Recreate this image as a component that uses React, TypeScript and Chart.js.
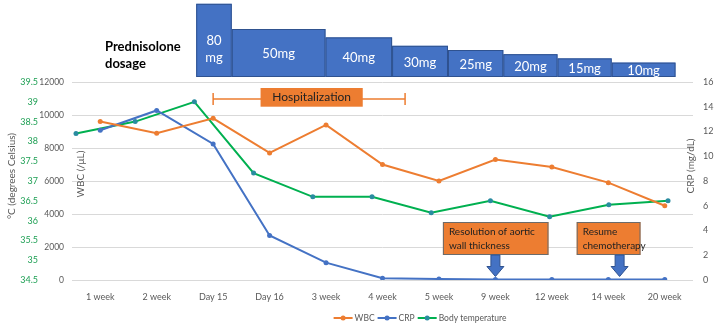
import React, { useEffect, useRef } from 'react';
import { Chart, registerables } from 'chart.js';

Chart.register(...registerables);

const categories = ['1 week', '2 week', 'Day 15', 'Day 16', '3 week', '4 week', '5 week', '9 week', '12 week', '14 week', '20 week'];
const wbcValues = [9600, 8900, 9800, 7700, 9400, 7000, 6000, 7300, 6850, 5900, 4500];
const crpValues = [12.1, 13.7, 11.0, 3.6, 1.4, 0.15, 0.08, 0.05, 0.05, 0.05, 0.05];
const temperatureValues = [38.2, 38.5, 39.0, 37.2, 36.6, 36.6, 36.2, 36.5, 36.1, 36.4, 36.5];

const doseLabels = ['80mg', '50mg', '40mg', '30mg', '25mg', '20mg', '15mg', '10mg'];
const doseAmounts = [80, 50, 40, 30, 25, 20, 15, 10];
// period boundaries, in category units
const doseBoundaries = [1.7, 2.33, 3.99, 5.17, 6.16, 7.14, 8.1, 9.06, 10.19];
const hospitalizationSpan = [2, 5.4];
const eventLabels = [['Resolution of aortic', 'wall thickness'], ['Resume', 'chemotherapy']];
const eventAt = [7, 9.2];
const eventBoxSpan = [[6.07, 7.94], [8.44, 9.57]];

const ORANGE = '#ED7D31';
const BLUE = '#4472C4';
const GREEN = '#00B050';
const GRAY = '#595959';
const FONT = "Lato, 'Noto Sans', sans-serif";

const overlay = {
  id: 'overlay',
  afterDraw(chart: any) {
    const ctx: CanvasRenderingContext2D = chart.ctx;
    const ca = chart.chartArea;
    const xs = chart.scales.x;
    const cw = (xs.right - xs.left) / categories.length;
    const px = (i: number) => xs.left + (i + 0.5) * cw;
    ctx.save();

    const vText = (t: string, x: number, y: number, size: number, color: string) => {
      ctx.save();
      ctx.translate(x, y);
      ctx.rotate(-Math.PI / 2);
      ctx.font = `${size}px ${FONT}`;
      ctx.fillStyle = color;
      ctx.textAlign = 'center';
      ctx.textBaseline = 'middle';
      ctx.fillText(t, 0, 0);
      ctx.restore();
    };
    vText('°C (degrees Celsius)', 12, 176, 10, GRAY);
    vText('WBC (/μL)', 81, 174, 10, GRAY);
    vText('CRP (mg/dL)', 691, 166, 10, GRAY);

    // Prednisolone title
    ctx.font = `bold 13px ${FONT}`;
    ctx.fillStyle = '#000';
    ctx.textAlign = 'left';
    ctx.textBaseline = 'middle';
    ctx.fillText('Prednisolone', 105, 47);
    ctx.fillText('dosage', 105, 64);

    // dosage blocks
    const base = ca.top - 5;
    doseAmounts.forEach((d, k) => {
      const x0 = px(doseBoundaries[k]);
      const x1 = px(doseBoundaries[k + 1]);
      const h = 6 + 0.84 * d;
      const top = base - h;
      ctx.fillStyle = BLUE;
      ctx.fillRect(x0, top, x1 - x0, h);
      ctx.strokeStyle = '#2F528F';
      ctx.lineWidth = 1;
      ctx.strokeRect(x0 + 0.5, top + 0.5, x1 - x0 - 1, h - 1);
      ctx.font = `13px ${FONT}`;
      ctx.fillStyle = '#fff';
      ctx.textAlign = 'center';
      ctx.textBaseline = 'middle';
      const cx = (x0 + x1) / 2;
      const cy = Math.max(top + h / 2, base - 28);
      const label = doseLabels[k];
      if (ctx.measureText(label).width > x1 - x0 - 6) {
        const m = label.match(/^(\d+)(.*)$/);
        ctx.fillText(m ? m[1] : label, cx, cy - 8.5);
        ctx.fillText(m ? m[2] : '', cx, cy + 8.5);
      } else {
        ctx.fillText(label, cx, cy + 1);
      }
    });

    // hospitalization bracket
    const hy = ca.top + 17;
    const hx0 = px(hospitalizationSpan[0]);
    const hx1 = px(hospitalizationSpan[1]);
    ctx.strokeStyle = ORANGE;
    ctx.lineWidth = 1.5;
    ctx.beginPath();
    ctx.moveTo(hx0, hy); ctx.lineTo(hx1, hy);
    ctx.moveTo(hx0, hy - 6); ctx.lineTo(hx0, hy + 6);
    ctx.moveTo(hx1, hy - 6); ctx.lineTo(hx1, hy + 6);
    ctx.stroke();
    const bx0 = px(2.84), bx1 = px(4.65);
    ctx.fillStyle = ORANGE;
    ctx.fillRect(bx0, ca.top + 6, bx1 - bx0, 18.7);
    ctx.font = `12px ${FONT}`;
    ctx.fillStyle = '#222';
    ctx.textAlign = 'center';
    ctx.fillText('Hospitalization', (bx0 + bx1) / 2, ca.top + 15.5);

    // event boxes with arrows
    eventLabels.forEach((lines, k) => {
      const x0 = px(eventBoxSpan[k][0]);
      const x1 = px(eventBoxSpan[k][1]);
      const y0 = ca.bottom - 58;
      const y1 = ca.bottom - 25;
      ctx.fillStyle = ORANGE;
      ctx.fillRect(x0, y0, x1 - x0, y1 - y0);
      ctx.strokeStyle = '#6b6b6b';
      ctx.lineWidth = 1;
      ctx.strokeRect(x0 + 0.5, y0 + 0.5, x1 - x0 - 1, y1 - y0 - 1);
      ctx.font = `10px ${FONT}`;
      ctx.fillStyle = '#222';
      ctx.textAlign = 'left';
      ctx.textBaseline = 'middle';
      ctx.fillText(lines[0], x0 + 6, y0 + 10);
      ctx.fillText(lines[1], x0 + 6, y0 + 23.5);
      const ax = px(eventAt[k]);
      ctx.beginPath();
      ctx.moveTo(ax - 4.5, y1);
      ctx.lineTo(ax + 4.5, y1);
      ctx.lineTo(ax + 4.5, ca.bottom - 13.5);
      ctx.lineTo(ax + 8.5, ca.bottom - 13.5);
      ctx.lineTo(ax, ca.bottom - 3.5);
      ctx.lineTo(ax - 8.5, ca.bottom - 13.5);
      ctx.lineTo(ax - 4.5, ca.bottom - 13.5);
      ctx.closePath();
      ctx.fillStyle = BLUE;
      ctx.fill();
      ctx.strokeStyle = '#2F528F';
      ctx.stroke();
    });

    // legend
    const items = [
      { t: 'WBC', c: ORANGE, m: ORANGE },
      { t: 'CRP', c: BLUE, m: BLUE },
      { t: 'Body temperature', c: GREEN, m: '#2A8CA0' },
    ];
    ctx.font = `8.5px ${FONT}`;
    const lineLen = 19;
    const widths = items.map((it) => lineLen + 2 + ctx.measureText(it.t).width);
    const gap = 3;
    const total = widths.reduce((a, b) => a + b, 0) + gap * (items.length - 1);
    let lx = 420 - total / 2;
    const ly = 318;
    items.forEach((it, k) => {
      ctx.strokeStyle = it.c;
      ctx.lineWidth = 2;
      ctx.beginPath();
      ctx.moveTo(lx, ly); ctx.lineTo(lx + lineLen, ly);
      ctx.stroke();
      ctx.fillStyle = it.m;
      ctx.beginPath();
      ctx.arc(lx + lineLen / 2, ly, 2.5, 0, Math.PI * 2);
      ctx.fill();
      ctx.fillStyle = GRAY;
      ctx.textAlign = 'left';
      ctx.textBaseline = 'middle';
      ctx.fillText(it.t, lx + lineLen + 2, ly);
      lx += widths[k] + gap;
    });

    ctx.restore();
  },
};

export default function App() {
  const canvasRef = useRef<HTMLCanvasElement | null>(null);

  useEffect(() => {
    document.body.style.margin = '0';
    const canvas = canvasRef.current;
    if (!canvas) return;
    Chart.defaults.font.family = FONT;
    const chart = new Chart(canvas, {
      type: 'line',
      data: {
        labels: categories,
        datasets: [
          {
            label: 'WBC',
            data: wbcValues,
            borderColor: ORANGE,
            backgroundColor: ORANGE,
            pointBackgroundColor: ORANGE,
            borderWidth: 2,
            pointRadius: 2.5,
            pointBorderWidth: 0,
            xAxisID: 'x',
            yAxisID: 'y',
            tension: 0,
          },
          {
            label: 'CRP',
            data: crpValues,
            borderColor: BLUE,
            backgroundColor: BLUE,
            pointBackgroundColor: BLUE,
            borderWidth: 2,
            pointRadius: 2.5,
            pointBorderWidth: 0,
            xAxisID: 'x',
            yAxisID: 'yC',
            tension: 0,
          },
          {
            label: 'Body temperature',
            data: temperatureValues.map((v, i) => ({ x: i, y: v })),
            borderColor: GREEN,
            backgroundColor: GREEN,
            pointBackgroundColor: '#2A8CA0',
            borderWidth: 2,
            pointRadius: 2.5,
            pointBorderWidth: 0,
            xAxisID: 'x2',
            yAxisID: 'yT',
            tension: 0,
          },
        ] as any,
      },
      options: {
        animation: false,
        responsive: true,
        maintainAspectRatio: false,
        events: [],
        layout: { padding: { top: 82, left: 0, right: 0, bottom: 0 } },
        plugins: { legend: { display: false }, tooltip: { enabled: false } },
        scales: {
          x: {
            type: 'category',
            offset: true,
            grid: { display: false },
            border: { display: false },
            ticks: { color: GRAY, font: { size: 9 }, padding: 4, maxRotation: 0, autoSkip: false },
            afterFit: (s: any) => { s.height = 47; },
          },
          x2: {
            type: 'linear',
            display: false,
            min: -0.0676,
            max: 10.422,
          },
          y: {
            position: 'left',
            weight: 0,
            min: 0,
            max: 12000,
            ticks: { stepSize: 2000, color: GRAY, font: { size: 8.5 }, padding: 8, callback: (v: any) => String(v) },
            grid: { color: '#D9D9D9', drawTicks: false },
            border: { display: false },
            afterFit: (s: any) => { s.width = 34; },
          },
          yT: {
            position: 'left',
            weight: 1,
            min: 34.5,
            max: 39.5,
            ticks: { stepSize: 0.5, color: '#1FA055', font: { size: 9 }, padding: 0, callback: (v: any) => String(Math.round(v * 10) / 10) },
            grid: { display: false, drawTicks: false },
            border: { display: false },
            afterFit: (s: any) => { s.width = 38; },
          },
          yC: {
            position: 'right',
            min: 0,
            max: 16,
            ticks: { stepSize: 2, color: GRAY, font: { size: 9 }, padding: 10, callback: (v: any) => String(v) },
            grid: { display: false, drawTicks: false },
            border: { display: false },
            afterFit: (s: any) => { s.width = 21; },
          },
        },
      } as any,
      plugins: [overlay],
    });
    return () => chart.destroy();
  }, []);

  return (
    <div style={{ width: 714, height: 327, position: 'relative' }}>
      <canvas ref={canvasRef} />
    </div>
  );
}
